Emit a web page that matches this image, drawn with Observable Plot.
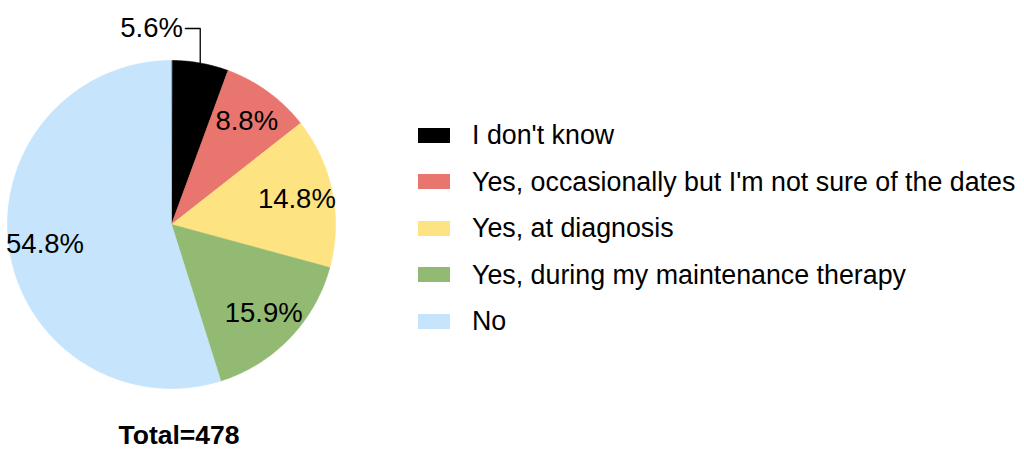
<!DOCTYPE html>
<html>
<head>
<meta charset="utf-8">
<script src="https://cdn.jsdelivr.net/npm/d3@7"></script>
<script src="https://cdn.jsdelivr.net/npm/@observablehq/plot@0.6"></script>
<style>
  html, body { margin: 0; padding: 0; background: #fff; }
  #wrap { position: relative; width: 1024px; height: 467px; font-family: "Liberation Sans", Arial, Helvetica, sans-serif; }
  #chart { position: absolute; left: 0; top: 0; }
  .legend-row { position: absolute; left: 418px; height: 30px; line-height: 30px; font-size: 26.8px; color: #000; white-space: nowrap; display: flex; align-items: center; }
  .swatch { width: 32px; height: 15px; margin-right: 22px; flex: none; }
  #total { position: absolute; top: 420px; left: 79px; width: 200px; text-align: center; font-weight: bold; font-size: 26.5px; line-height: 30px; }
</style>
</head>
<body>
<div id="wrap">
  <div id="chart"></div>
  <div id="total">Total=478</div>
</div>
<script>
// Data
const categories = ["I don't know", "Yes, occasionally but I'm not sure of the dates", "Yes, at diagnosis", "Yes, during my maintenance therapy", "No"];
const percents = [5.6, 8.8, 14.8, 15.9, 54.8];
const colors = ["#000000", "#e8756e", "#fde381", "#92ba72", "#c6e4fb"];
const total = 478;

// Build pie geometry from the data (clockwise from 12 o'clock)
const pie = d3.pie().sort(null).value(d => d.value)(categories.map((c, i) => ({label: c, value: percents[i]})));
const slicePts = [];
pie.forEach(p => {
  const steps = Math.max(2, Math.ceil((p.endAngle - p.startAngle) / (Math.PI / 360)));
  slicePts.push({label: p.data.label, x: 0, y: 0});
  for (let k = 0; k <= steps; k++) {
    const a = p.startAngle + (p.endAngle - p.startAngle) * k / steps;
    slicePts.push({label: p.data.label, x: Math.sin(a), y: Math.cos(a)});
  }
});

const inside = [], outside = [], leaders = [];
pie.forEach(p => {
  const mid = (p.startAngle + p.endAngle) / 2;
  const txt = p.data.value.toFixed(1) + "%";
  if (p.data.value < 6) {
    const ax = Math.sin(mid), ay = Math.cos(mid);
    const ey = 1.195;
    leaders.push({id: txt, x: ax, y: ay}, {id: txt, x: ax, y: ey}, {id: txt, x: ax - 0.09, y: ey});
    outside.push({text: txt, x: ax - 0.105, y: ey});
  } else {
    const r = 0.78;
    inside.push({text: txt, x: r * Math.sin(mid), y: r * Math.cos(mid)});
  }
});

const plot = Plot.plot({
  width: 1024,
  height: 467,
  margin: 0,
  x: {type: "linear", domain: [-1, 1], range: [7, 335], axis: null},
  y: {type: "linear", domain: [-1, 1], range: [388, 60], axis: null},
  color: {domain: categories, range: colors},
  style: {fontFamily: "'Liberation Sans', Arial, Helvetica, sans-serif", background: "#fff"},
  marks: [
    Plot.line(slicePts, {x: "x", y: "y", z: "label", fill: "label", stroke: "label", strokeWidth: 0.6, curve: "linear-closed"}),
    Plot.line(leaders, {x: "x", y: "y", z: "id", stroke: "#000", strokeWidth: 1.3}),
    Plot.text(inside, {x: "x", y: "y", text: "text", fontSize: 27.5, fill: "#000"}),
    Plot.text(outside, {x: "x", y: "y", text: "text", fontSize: 27.5, fill: "#000", textAnchor: "end"})
  ]
});
document.getElementById("chart").appendChild(plot);

// Legend
const wrap = document.getElementById("wrap");
categories.forEach((c, i) => {
  const row = document.createElement("div");
  row.className = "legend-row";
  row.style.top = (135 + i * 46.5 - 15) + "px";
  const sw = document.createElement("span");
  sw.className = "swatch";
  sw.style.background = colors[i];
  const t = document.createElement("span");
  t.textContent = c;
  row.appendChild(sw);
  row.appendChild(t);
  wrap.appendChild(row);
});
document.getElementById("total").textContent = "Total=" + total;
</script>
</body>
</html>
